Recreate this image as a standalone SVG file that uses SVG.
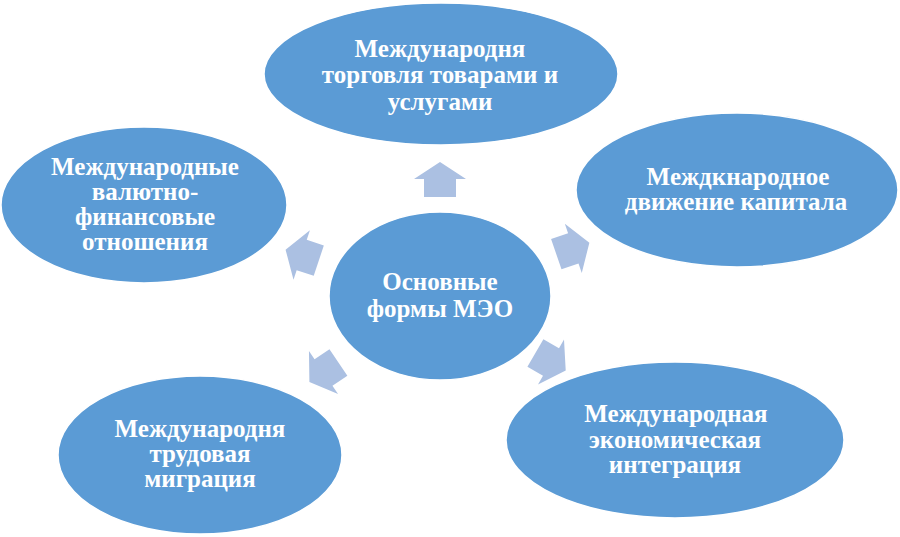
<svg xmlns="http://www.w3.org/2000/svg" width="900" height="537" viewBox="0 0 900 537">
<defs>
<style>
.node{fill:#5b9bd5;stroke:#ffffff;stroke-width:1.5}
.arrow{fill:#abc0e2}
text{font-family:'Liberation Serif','Times New Roman','DejaVu Serif',serif;font-weight:700;font-size:25px;fill:#ffffff;text-anchor:middle}
</style>
<path id="arr" d="M17,0 L0,-26 L0,-16 L-18,-16 L-18,16 L0,16 L0,26 Z"/>
</defs>
<rect width="900" height="537" fill="#ffffff"/>
<g id="connectors">
<use href="#arr" class="arrow" transform="translate(440,179) rotate(-90)"/>
<use href="#arr" class="arrow" transform="translate(573.3,248.3) rotate(-19)"/>
<use href="#arr" class="arrow" transform="translate(551,362) rotate(30)"/>
<use href="#arr" class="arrow" transform="translate(323.5,372.5) rotate(146)"/>
<use href="#arr" class="arrow" transform="translate(301.7,255) rotate(-161.6)"/>
</g>
<g id="center">
<ellipse class="node" cx="440" cy="296" rx="111" ry="84"/>
<text x="440" y="290">Основные</text>
<text x="440" y="317">формы МЭО</text>
</g>
<g id="top">
<ellipse class="node" cx="441" cy="74" rx="177" ry="71"/>
<text x="440" y="57">Международня</text>
<text x="440" y="83">торговля товарами и</text>
<text x="440" y="110">услугами</text>
</g>
<g id="right">
<ellipse class="node" cx="737" cy="190" rx="161" ry="77"/>
<text x="738" y="185">Междкнародное</text>
<text x="736" y="210">движение капитала</text>
</g>
<g id="left">
<ellipse class="node" cx="144" cy="205" rx="143" ry="78"/>
<text x="145" y="175">Международные</text>
<text x="145" y="200">валютно-</text>
<text x="145" y="225">финансовые</text>
<text x="145" y="250">отношения</text>
</g>
<g id="bottom-left">
<ellipse class="node" cx="200" cy="455" rx="142" ry="79"/>
<text x="200" y="437">Международня</text>
<text x="200" y="462">трудовая</text>
<text x="200" y="487">миграция</text>
</g>
<g id="bottom-right">
<ellipse class="node" cx="675" cy="440" rx="169" ry="78"/>
<text x="676" y="422">Международная</text>
<text x="675" y="448">экономическая</text>
<text x="675" y="473">интеграция</text>
</g>
</svg>
